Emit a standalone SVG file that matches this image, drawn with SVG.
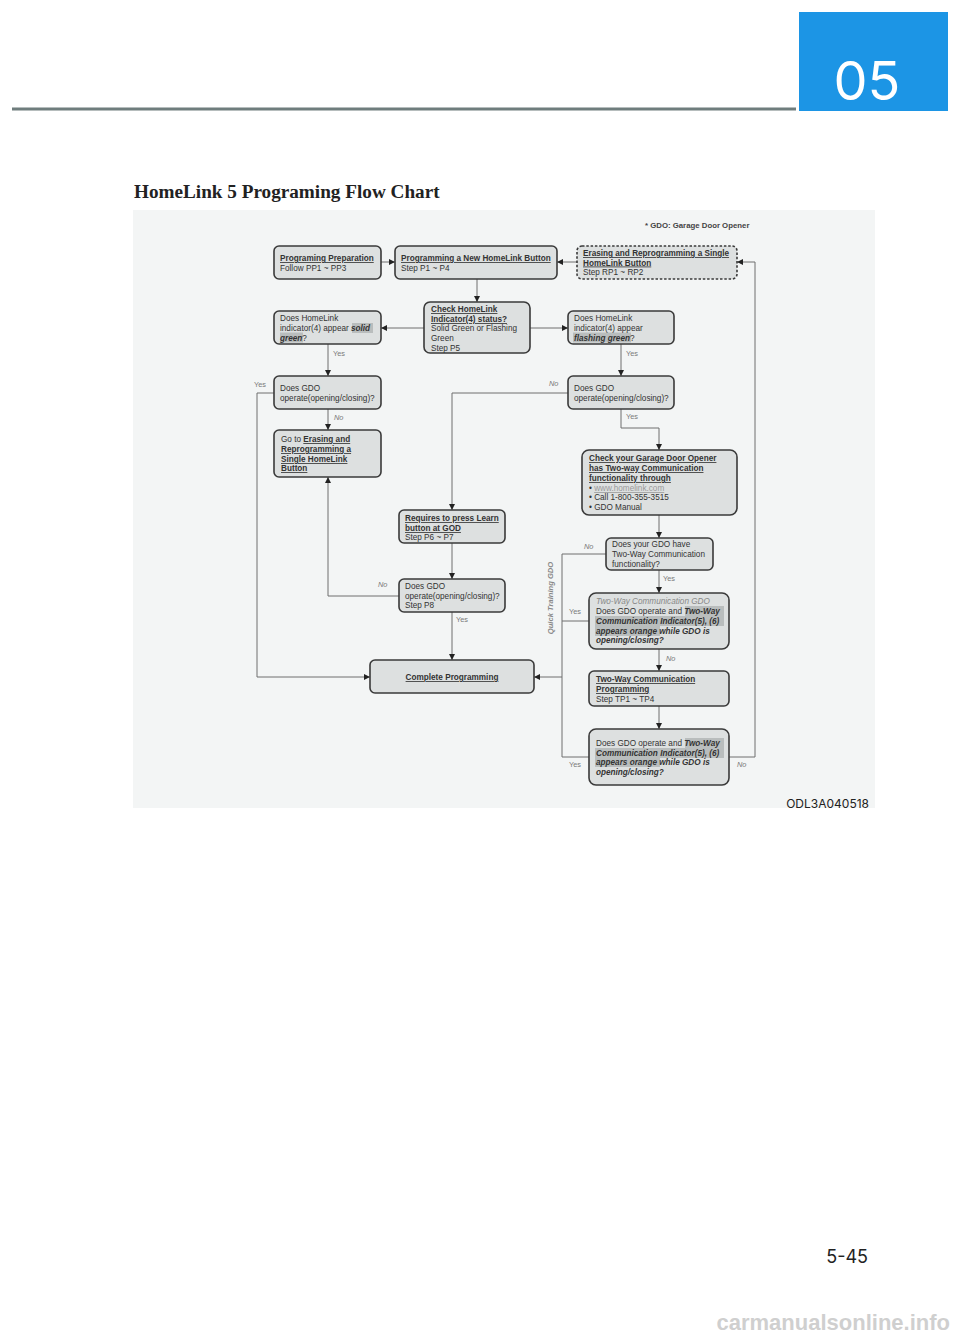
<svg xmlns="http://www.w3.org/2000/svg" width="960" height="1337" viewBox="0 0 960 1337">
<defs>
<style>
.node rect.b{fill:#dde0e0;stroke:#3a3a3a;stroke-width:1.6}
.t{font-family:"Liberation Sans",Arial,sans-serif;font-size:8.2px;fill:#333}
.bu{font-weight:bold;text-decoration:underline}
.bi{font-weight:bold;font-style:italic}
.hl{fill:#b9bdbd}
.c path,.c line{fill:none;stroke:#6e6e6e;stroke-width:1}
.lbl{font-family:"Liberation Sans",Arial,sans-serif;font-size:7.4px;fill:#7a7a7a}
.no{font-style:italic}
</style>
<marker id="ah" viewBox="0 0 10 10" refX="10" refY="5" markerWidth="6" markerHeight="6" orient="auto" markerUnits="userSpaceOnUse">
<path d="M0,0 L10,5 L0,10 z" fill="#222"/>
</marker>
</defs>
<rect width="960" height="1337" fill="#fff"/>
<!-- header -->
<rect x="12" y="107.5" width="784" height="3" fill="#6f7d7d"/>
<rect x="799" y="12" width="149" height="99" fill="#1c95e5"/>
<text x="867" y="100" font-family="Inter,'Noto Sans',sans-serif" font-size="54" fill="#fff" text-anchor="middle">05</text>
<text x="134" y="198" font-family="'Liberation Serif','Times New Roman',serif" font-size="19.2" font-weight="bold" fill="#222">HomeLink 5 Programing Flow Chart</text>
<!-- chart background -->
<rect x="133" y="210" width="742" height="598" fill="#f3f5f5"/>
<text x="645" y="228" class="t" style="font-size:7.8px;font-weight:bold;fill:#444">* GDO: Garage Door Opener</text>

<g class="c" id="connectors">
<line x1="381" y1="262" x2="395" y2="262" marker-end="url(#ah)"/>
<line x1="577" y1="262" x2="557" y2="262" marker-end="url(#ah)"/>
<line x1="477" y1="279" x2="477" y2="302" marker-end="url(#ah)"/>
<line x1="424" y1="328" x2="381" y2="328" marker-end="url(#ah)"/>
<line x1="530" y1="328" x2="568" y2="328" marker-end="url(#ah)"/>
<line x1="328" y1="344" x2="328" y2="376" marker-end="url(#ah)"/>
<line x1="621" y1="344" x2="621" y2="376" marker-end="url(#ah)"/>
<line x1="328" y1="409" x2="328" y2="430" marker-end="url(#ah)"/>
<path d="M274,393 H257 V677 H370" marker-end="url(#ah)"/>
<path d="M568,393 H452 V510" marker-end="url(#ah)"/>
<path d="M621,409 V428 H659 V450" marker-end="url(#ah)"/>
<line x1="659" y1="515" x2="659" y2="538" marker-end="url(#ah)"/>
<line x1="659" y1="570" x2="659" y2="593" marker-end="url(#ah)"/>
<line x1="659" y1="649" x2="659" y2="671" marker-end="url(#ah)"/>
<line x1="659" y1="706" x2="659" y2="729" marker-end="url(#ah)"/>
<line x1="452" y1="543" x2="452" y2="579" marker-end="url(#ah)"/>
<path d="M399,596 H328 V477" marker-end="url(#ah)"/>
<line x1="452" y1="612" x2="452" y2="660" marker-end="url(#ah)"/>
<path d="M606,554 H562 V757 H589"/>
<line x1="589" y1="621" x2="562" y2="621"/>
<line x1="562" y1="677" x2="534" y2="677" marker-end="url(#ah)"/>
<path d="M729,757 H755 V262 H737" marker-end="url(#ah)"/>
</g>

<g id="labels">
<text class="lbl" x="333" y="356">Yes</text>
<text class="lbl" x="626" y="356">Yes</text>
<text class="lbl no" x="334" y="420">No</text>
<text class="lbl" x="254" y="387">Yes</text>
<text class="lbl no" x="549" y="386">No</text>
<text class="lbl" x="626" y="419">Yes</text>
<text class="lbl no" x="584" y="549">No</text>
<text class="lbl" x="663" y="581">Yes</text>
<text class="lbl" x="569" y="614">Yes</text>
<text class="lbl no" x="666" y="661">No</text>
<text class="lbl no" x="378" y="587">No</text>
<text class="lbl" x="456" y="622">Yes</text>
<text class="lbl" x="569" y="767">Yes</text>
<text class="lbl no" x="737" y="767">No</text>
<text class="lbl no" x="553" y="598" transform="rotate(-90 553 598)" text-anchor="middle" style="font-weight:bold;font-size:7.6px;fill:#888">Quick Training GDO</text>
</g>

<g class="node" id="n-prep">
<rect class="b" x="274" y="246" width="107" height="33" rx="5"/>
<text class="t" x="280" y="261"><tspan class="bu">Programing Preparation</tspan></text>
<text class="t" x="280" y="271">Follow PP1 ~ PP3</text>
</g>
<g class="node" id="n-prog">
<rect class="b" x="395" y="246" width="162" height="33" rx="5"/>
<text class="t" x="401" y="261"><tspan class="bu">Programming a New HomeLink Button</tspan></text>
<text class="t" x="401" y="271">Step P1 ~ P4</text>
</g>
<g class="node" id="n-erase">
<rect class="b" x="577" y="246" width="160" height="33" rx="5" style="stroke-dasharray:2.5 1.8"/>
<text class="t" x="583" y="256"><tspan class="bu">Erasing and Reprogramming a Single</tspan></text>
<text class="t" x="583" y="265.5"><tspan class="bu">HomeLink Button</tspan></text>
<text class="t" x="583" y="275">Step RP1 ~ RP2</text>
</g>
<g class="node" id="n-check">
<rect class="b" x="424" y="302" width="106" height="51" rx="6"/>
<text class="t" x="431" y="312"><tspan class="bu">Check HomeLink</tspan></text>
<text class="t" x="431" y="322"><tspan class="bu">Indicator(4) status?</tspan></text>
<text class="t" x="431" y="331">Solid Green or Flashing</text>
<text class="t" x="431" y="341">Green</text>
<text class="t" x="431" y="351">Step P5</text>
</g>
<g class="node" id="n-solid">
<rect class="b" x="274" y="311" width="107" height="33" rx="5"/>
<rect class="hl" x="352" y="323" width="21" height="10"/>
<rect class="hl" x="280" y="332.5" width="23" height="10"/>
<text class="t" x="280" y="321">Does HomeLink</text>
<text class="t" x="280" y="331">indicator(4) appear <tspan class="bi">solid</tspan></text>
<text class="t" x="280" y="340.5"><tspan class="bi">green</tspan>?</text>
</g>
<g class="node" id="n-flash">
<rect class="b" x="568" y="311" width="106" height="33" rx="5"/>
<rect class="hl" x="573" y="332.5" width="58" height="10"/>
<text class="t" x="574" y="321">Does HomeLink</text>
<text class="t" x="574" y="331">indicator(4) appear</text>
<text class="t" x="574" y="340.5"><tspan class="bi">flashing green</tspan>?</text>
</g>
<g class="node" id="n-gdo-left">
<rect class="b" x="274" y="376" width="107" height="33" rx="5"/>
<text class="t" x="280" y="391">Does GDO</text>
<text class="t" x="280" y="401">operate(opening/closing)?</text>
</g>
<g class="node" id="n-gdo-right">
<rect class="b" x="568" y="376" width="106" height="33" rx="5"/>
<text class="t" x="574" y="391">Does GDO</text>
<text class="t" x="574" y="401">operate(opening/closing)?</text>
</g>
<g class="node" id="n-goto">
<rect class="b" x="274" y="430" width="107" height="47" rx="5"/>
<text class="t" x="281" y="442">Go to <tspan class="bu">Erasing and</tspan></text>
<text class="t" x="281" y="452"><tspan class="bu">Reprogramming a</tspan></text>
<text class="t" x="281" y="462"><tspan class="bu">Single HomeLink</tspan></text>
<text class="t" x="281" y="471"><tspan class="bu">Button</tspan></text>
</g>
<g class="node" id="n-checkgdo">
<rect class="b" x="582" y="450" width="155" height="65" rx="7"/>
<text class="t" x="589" y="461"><tspan class="bu">Check your Garage Door Opener</tspan></text>
<text class="t" x="589" y="471"><tspan class="bu">has Two-way Communication</tspan></text>
<text class="t" x="589" y="481"><tspan class="bu">functionality through</tspan></text>
<text class="t" x="589" y="491">•  <tspan style="fill:#9a9a9a;text-decoration:underline">www.homelink.com</tspan></text>
<text class="t" x="589" y="500">•  Call 1-800-355-3515</text>
<text class="t" x="589" y="510">•  GDO Manual</text>
</g>
<g class="node" id="n-learn">
<rect class="b" x="399" y="510" width="106" height="33" rx="5"/>
<text class="t" x="405" y="521"><tspan class="bu">Requires to press Learn</tspan></text>
<text class="t" x="405" y="531"><tspan class="bu">button at GOD</tspan></text>
<text class="t" x="405" y="540">Step P6 ~ P7</text>
</g>
<g class="node" id="n-havetw">
<rect class="b" x="606" y="538" width="107" height="32" rx="5"/>
<text class="t" x="612" y="547">Does your GDO have</text>
<text class="t" x="612" y="557">Two-Way Communication</text>
<text class="t" x="612" y="567">functionality?</text>
</g>
<g class="node" id="n-p8">
<rect class="b" x="399" y="579" width="106" height="33" rx="5"/>
<text class="t" x="405" y="589">Does GDO</text>
<text class="t" x="405" y="599">operate(opening/closing)?</text>
<text class="t" x="405" y="608">Step P8</text>
</g>
<g class="node" id="n-twgdo">
<rect class="b" x="589" y="593" width="140" height="56" rx="7"/>
<rect class="hl" x="685" y="606" width="39" height="10"/>
<rect class="hl" x="595" y="616" width="129" height="10"/>
<rect class="hl" x="595" y="626" width="65" height="10"/>
<text class="t" x="596" y="604" style="font-style:italic;fill:#888">Two-Way Communication GDO</text>
<text class="t" x="596" y="614">Does GDO operate and <tspan class="bi">Two-Way</tspan></text>
<text class="t" x="596" y="624"><tspan class="bi">Communication Indicator(5), (6)</tspan></text>
<text class="t" x="596" y="634"><tspan class="bi">appears orange while GDO is</tspan></text>
<text class="t" x="596" y="643"><tspan class="bi">opening/closing?</tspan></text>
</g>
<g class="node" id="n-complete">
<rect class="b" x="370" y="660" width="164" height="33" rx="5"/>
<text class="t" x="452" y="680" text-anchor="middle"><tspan class="bu">Complete Programming</tspan></text>
</g>
<g class="node" id="n-twprog">
<rect class="b" x="589" y="671" width="140" height="35" rx="5"/>
<text class="t" x="596" y="682"><tspan class="bu">Two-Way Communication</tspan></text>
<text class="t" x="596" y="692"><tspan class="bu">Programming</tspan></text>
<text class="t" x="596" y="702">Step TP1 ~ TP4</text>
</g>
<g class="node" id="n-final">
<rect class="b" x="589" y="729" width="140" height="56" rx="7"/>
<rect class="hl" x="685" y="738" width="39" height="10"/>
<rect class="hl" x="595" y="748" width="129" height="10"/>
<rect class="hl" x="595" y="757" width="65" height="10"/>
<text class="t" x="596" y="746">Does GDO operate and <tspan class="bi">Two-Way</tspan></text>
<text class="t" x="596" y="756"><tspan class="bi">Communication Indicator(5), (6)</tspan></text>
<text class="t" x="596" y="765"><tspan class="bi">appears orange while GDO is</tspan></text>
<text class="t" x="596" y="775"><tspan class="bi">opening/closing?</tspan></text>
</g>

<text x="869" y="808" font-family="Inter,'Noto Sans',sans-serif" font-size="12" fill="#222" text-anchor="end">ODL3A040518</text>
<text x="868" y="1263" font-family="Inter,'Noto Sans',sans-serif" font-size="18" fill="#222" text-anchor="end">5-45</text>
<text x="950" y="1330" font-family="'Liberation Sans',Arial,sans-serif" font-size="22" font-weight="bold" fill="#cfcfcf" text-anchor="end">carmanualsonline.info</text>
</svg>
